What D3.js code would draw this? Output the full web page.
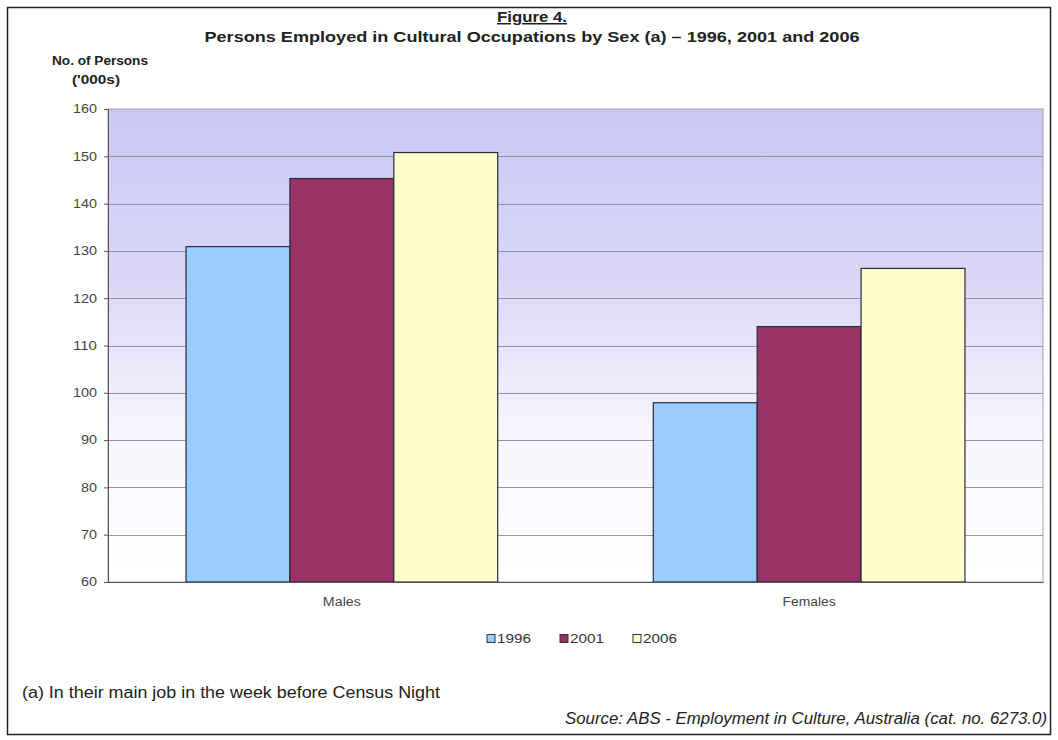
<!DOCTYPE html>
<html>
<head>
<meta charset="utf-8">
<script src="https://cdn.jsdelivr.net/npm/d3@7"></script>
<style>
  html, body { margin: 0; padding: 0; background: #ffffff; }
  svg { display: block; font-family: "Liberation Sans", Arial, sans-serif; }
</style>
</head>
<body>
<svg id="chart" width="1058" height="740"></svg>
<script>
// Persons employed in cultural occupations ('000s)
const categories = ["Males", "Females"];
const years = ["1996", "2001", "2006"];
const values1996 = [130.9, 97.9];
const values2001 = [145.3, 114.0];
const values2006 = [150.8, 126.3];
const yTicks = [60, 70, 80, 90, 100, 110, 120, 130, 140, 150, 160];
const seriesColors = ["#99ccff", "#993366", "#ffffcc"];

const series = [values1996, values2001, values2006];
const rows = categories.map((c, i) => ({
  category: c,
  values: years.map((y, j) => ({ year: y, value: series[j][i], color: seriesColors[j] }))
}));

const svg = d3.select("#chart");
const W = 1058, H = 740;
const plot = { left: 108, right: 1043, top: 109, bottom: 582 };
const textColor = "#333";

// outer frame
svg.append("rect")
  .attr("x", 7.5).attr("y", 7.5)
  .attr("width", W - 15).attr("height", H - 13)
  .attr("fill", "#ffffff").attr("stroke", "#222").attr("stroke-width", 1.5);

const x0 = d3.scaleBand().domain(categories)
  .range([plot.left, plot.right]).paddingInner(0.333).paddingOuter(0.167);
const x1 = d3.scaleBand().domain(years).range([0, x0.bandwidth()]).padding(0);
const y = d3.scaleLinear().domain([60, 160]).range([plot.bottom, plot.top]);

// plot background: lavender fading to white
const defs = svg.append("defs");
const grad = defs.append("linearGradient").attr("id", "bg")
  .attr("x1", 0).attr("y1", 0).attr("x2", 0).attr("y2", 1);
grad.append("stop").attr("offset", "0%").attr("stop-color", "#c8c8f5");
grad.append("stop").attr("offset", "35%").attr("stop-color", "#d9d6f6");
grad.append("stop").attr("offset", "68%").attr("stop-color", "#f6f5fe");
grad.append("stop").attr("offset", "100%").attr("stop-color", "#ffffff");

svg.append("rect")
  .attr("x", plot.left).attr("y", plot.top)
  .attr("width", plot.right - plot.left).attr("height", plot.bottom - plot.top)
  .attr("fill", "url(#bg)").attr("stroke", "#a0a0ac").attr("stroke-width", 1);

// horizontal gridlines
svg.append("g").selectAll("line")
  .data(yTicks.filter(t => t > 60 && t < 160))
  .join("line")
  .attr("x1", plot.left).attr("x2", plot.right)
  .attr("y1", d => Math.round(y(d)) + 0.5).attr("y2", d => Math.round(y(d)) + 0.5)
  .attr("stroke", "#9494a4").attr("stroke-width", 1);

// y axis
const yAxis = svg.append("g")
  .attr("transform", `translate(${plot.left},0)`)
  .call(d3.axisLeft(y).tickValues(yTicks).tickSize(4).tickPadding(7));
yAxis.select(".domain").attr("stroke", "#555");
yAxis.selectAll(".tick line").attr("stroke", "#555");
yAxis.selectAll(".tick text")
  .attr("fill", "#444").attr("font-size", 12)
  .attr("font-family", "'Liberation Sans', Arial, sans-serif")
  .attr("textLength", d => String(d).length * 8)
  .attr("lengthAdjust", "spacingAndGlyphs");

// bars
const groups = svg.append("g").selectAll("g")
  .data(rows).join("g")
  .attr("transform", d => `translate(${x0(d.category)},0)`);
groups.selectAll("rect")
  .data(d => d.values).join("rect")
  .attr("x", d => x1(d.year))
  .attr("y", d => y(d.value))
  .attr("width", x1.bandwidth())
  .attr("height", d => y(60) - y(d.value))
  .attr("fill", d => d.color)
  .attr("stroke", "#2a2a3a").attr("stroke-width", 1.2);

// x axis baseline and category labels
const xAxis = svg.append("g")
  .attr("transform", `translate(0,${plot.bottom})`)
  .call(d3.axisBottom(x0).tickSize(0).tickPadding(15));
xAxis.select(".domain").attr("stroke", "#555");
xAxis.selectAll(".tick text")
  .attr("fill", "#444").attr("font-size", 12)
  .attr("font-family", "'Liberation Sans', Arial, sans-serif")
  .attr("textLength", d => d.length * 7.6)
  .attr("lengthAdjust", "spacingAndGlyphs");

// titles
svg.append("text")
  .attr("x", 532).attr("y", 22)
  .attr("text-anchor", "middle")
  .attr("font-size", 15).attr("font-weight", "bold").attr("fill", "#222")
  .attr("text-decoration", "underline")
  .attr("textLength", 70).attr("lengthAdjust", "spacingAndGlyphs")
  .text("Figure 4.");
svg.append("text")
  .attr("x", 532).attr("y", 42)
  .attr("text-anchor", "middle")
  .attr("font-size", 15).attr("font-weight", "bold").attr("fill", "#222")
  .attr("textLength", 655).attr("lengthAdjust", "spacingAndGlyphs")
  .text("Persons Employed in Cultural Occupations by Sex (a) \u2013 1996, 2001 and 2006");

svg.append("text")
  .attr("x", 100).attr("y", 65)
  .attr("text-anchor", "middle")
  .attr("font-size", 12).attr("font-weight", "bold").attr("fill", "#222")
  .attr("textLength", 96).attr("lengthAdjust", "spacingAndGlyphs")
  .text("No. of Persons");
svg.append("text")
  .attr("x", 96).attr("y", 84)
  .attr("text-anchor", "middle")
  .attr("font-size", 12).attr("font-weight", "bold").attr("fill", "#222")
  .attr("textLength", 48).attr("lengthAdjust", "spacingAndGlyphs")
  .text("('000s)");

// legend
const legendX = d3.scalePoint().domain(years).range([487, 633]);
const legend = svg.append("g").selectAll("g")
  .data(years.map((yr, j) => ({ year: yr, color: seriesColors[j] })))
  .join("g")
  .attr("transform", d => `translate(${legendX(d.year)},639)`);
legend.append("rect")
  .attr("x", 0).attr("y", -4.5).attr("width", 8).attr("height", 8)
  .attr("fill", d => d.color).attr("stroke", "#333").attr("stroke-width", 1);
legend.append("text")
  .attr("x", 10).attr("y", 4)
  .attr("font-size", 12).attr("fill", textColor)
  .attr("textLength", 34).attr("lengthAdjust", "spacingAndGlyphs")
  .text(d => d.year);

// notes
svg.append("text")
  .attr("x", 22).attr("y", 698)
  .attr("font-size", 16).attr("fill", "#222")
  .attr("textLength", 418).attr("lengthAdjust", "spacingAndGlyphs")
  .text("(a) In their main job in the week before Census Night");
svg.append("text")
  .attr("x", 1047).attr("y", 724)
  .attr("text-anchor", "end")
  .attr("font-size", 16).attr("font-style", "italic").attr("fill", "#222")
  .attr("textLength", 482).attr("lengthAdjust", "spacingAndGlyphs")
  .text("Source: ABS - Employment in Culture, Australia (cat. no. 6273.0)");
</script>
</body>
</html>
